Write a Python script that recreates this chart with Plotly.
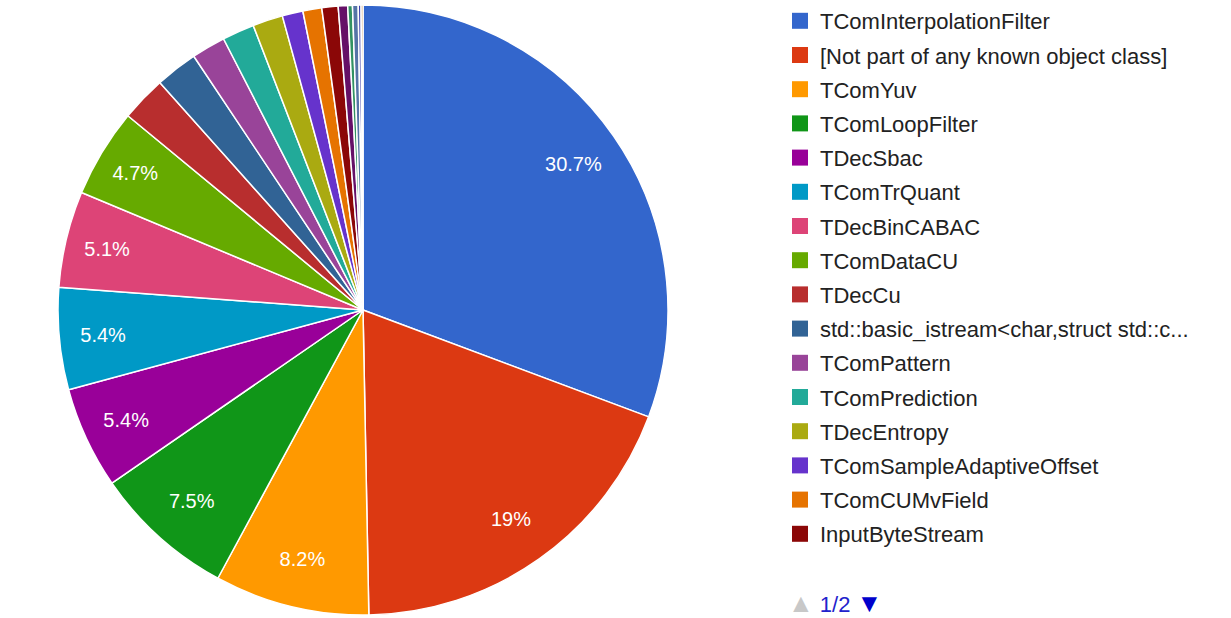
import plotly.graph_objects as go

# ---- data (percent of total), clockwise from 12 o'clock ----
labels = [
    "TComInterpolationFilter",
    "[Not part of any known object class]",
    "TComYuv",
    "TComLoopFilter",
    "TDecSbac",
    "TComTrQuant",
    "TDecBinCABAC",
    "TComDataCU",
    "TDecCu",
    "std::basic_istream<char,struct std::c...",
    "TComPattern",
    "TComPrediction",
    "TDecEntropy",
    "TComSampleAdaptiveOffset",
    "TComCUMvField",
    "InputByteStream",
    "(page 2 class 17)",
    "(page 2 class 18)",
    "(page 2 class 19)",
    "(page 2 class 20)",
    "(page 2 class 21)",
]
values = [30.7, 19.0, 8.2, 7.5, 5.4, 5.4, 5.1, 4.7, 2.4, 2.25, 1.8, 1.7, 1.6,
          1.1, 1.0, 0.86, 0.5, 0.25, 0.3, 0.15, 0.1]
colors = ["#3366cc", "#dc3912", "#ff9900", "#109618", "#990099", "#0099c6",
          "#dd4477", "#66aa00", "#b82e2e", "#316395", "#994499", "#22aa99",
          "#aaaa11", "#6633cc", "#e67300", "#8b0707", "#651067", "#329262",
          "#5574a6", "#3b3eac", "#b77322"]
legend_count = 16          # legend page 1 of 2
page_text = "1/2"

total = sum(values)

def fmt(v):
    p = v / total * 100
    s = f"{p:.1f}"
    if s.endswith(".0"):
        s = s[:-2]
    return s + "%"

slice_text = [fmt(v) if v / total * 100 >= 4.5 else "" for v in values]

FONT = "Liberation Sans, Arial, sans-serif"
W, H = 1231, 618

cx, cy, r = 363, 310, 305
dom = dict(x=[(cx - r) / W, (cx + r) / W], y=[max(0, 1 - (cy + r) / H), 1 - (cy - r) / H])

fig = go.Figure()
# coloured slices
fig.add_trace(go.Pie(
    labels=labels, values=values, sort=False, direction="clockwise",
    rotation=0,
    marker=dict(colors=colors, line=dict(color="white", width=1.5)),
    textinfo="none", showlegend=False, domain=dom, hoverinfo="label+percent",
))
# transparent ring carrying the percentage labels further out
fig.add_trace(go.Pie(
    labels=labels, values=values, sort=False, direction="clockwise",
    rotation=0, hole=0.68,
    marker=dict(colors=["rgba(0,0,0,0)"] * len(values), line=dict(width=0)),
    text=slice_text, textinfo="text", textposition="inside",
    insidetextorientation="horizontal",
    insidetextfont=dict(family=FONT, size=20, color="white"),
    showlegend=False, domain=dom, hoverinfo="skip",
))

# legend entries (first page only)
for i in range(legend_count):
    fig.add_trace(go.Scatter(
        x=[None], y=[None], mode="markers", name=labels[i],
        legendgroup=f"g{i}",
        marker=dict(symbol="square", size=18, color=colors[i]),
    ))

fig.add_annotation(
    xref="paper", yref="paper", x=786 / W, y=1 - 603 / H,
    xanchor="left", yanchor="middle", showarrow=False,
    text=("<span style='color:#c8c8c8;font-size:26px'>▲</span> "
          f"<span style='color:#2222cc'>{page_text}</span> "
          "<span style='color:#0000cc;font-size:26px'>▼</span>"),
    font=dict(family=FONT, size=22),
)

fig.update_layout(
    width=W, height=H,
    margin=dict(l=0, r=0, t=0, b=0),
    paper_bgcolor="white", plot_bgcolor="white",
    xaxis=dict(visible=False), yaxis=dict(visible=False),
    legend=dict(x=780 / W, y=1.0, xanchor="left", yanchor="top",
                font=dict(family=FONT, size=22, color="#222222"),
                tracegroupgap=2.6, itemsizing="trace",
                bgcolor="rgba(0,0,0,0)", borderwidth=0),
)

fig.write_html("out.html",
               config={"displayModeBar": False},
               post_script="document.body.style.margin='0';"
                           "document.body.style.overflow='hidden';")
